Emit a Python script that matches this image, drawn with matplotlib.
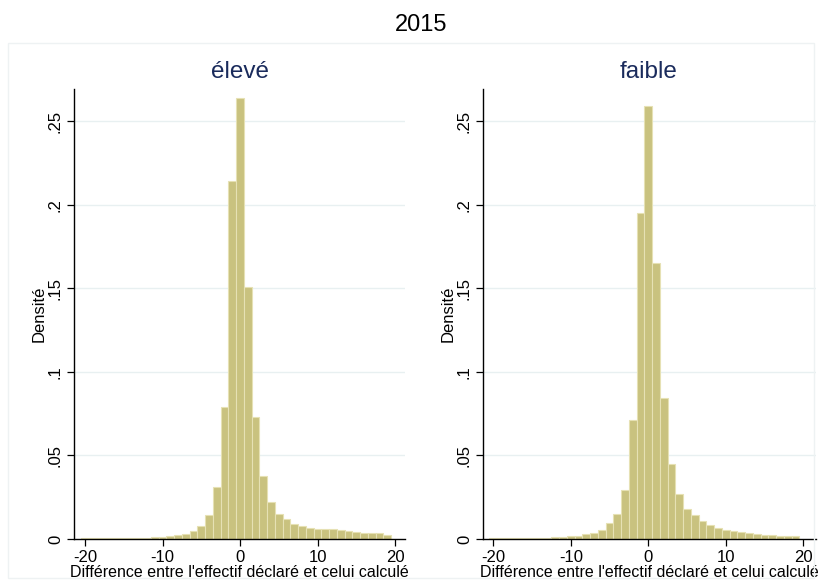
import numpy as np
import matplotlib
matplotlib.use("Agg")
import matplotlib.pyplot as plt
from matplotlib.patches import Rectangle

plt.rcParams['font.family'] = ['Liberation Sans', 'DejaVu Sans']

# bin centres (width 1) of the difference, and density per group
bin_centers = np.arange(-20, 20)

dens_eleve = [0.0003, 0.0003, 0.0004, 0.0004, 0.0004, 0.0005, 0.0005, 0.0006, 0.0007, 0.0009,
              0.0012, 0.0016, 0.0024, 0.0032, 0.0046, 0.0080, 0.0146, 0.0314, 0.0790, 0.2146,
              0.2640, 0.1506, 0.0733, 0.0378, 0.0219, 0.0152, 0.0120, 0.0092, 0.0076, 0.0066,
              0.0062, 0.0060, 0.0058, 0.0052, 0.0046, 0.0040, 0.0038, 0.0036, 0.0034, 0.0026]

dens_faible = [0.0003, 0.0003, 0.0004, 0.0004, 0.0005, 0.0005, 0.0006, 0.0007, 0.0009, 0.0012,
               0.0016, 0.0020, 0.0028, 0.0036, 0.0055, 0.0094, 0.0151, 0.0294, 0.0710, 0.1954,
               0.2590, 0.1654, 0.0846, 0.0447, 0.0272, 0.0178, 0.0146, 0.0108, 0.0082, 0.0068,
               0.0056, 0.0048, 0.0040, 0.0034, 0.0028, 0.0024, 0.0022, 0.0020, 0.0018, 0.0016]

panel_titles = ["élevé", "faible"]
main_title = "2015"
xlabel = "Différence entre l'effectif déclaré et celui calculé"
ylabel = "Densité"
yticks = [0, 0.05, 0.1, 0.15, 0.2, 0.25]
ytick_labels = ["0", ".05", ".1", ".15", ".2", ".25"]
xticks = [-20, -10, 0, 10, 20]

W, H = 819, 581
fig = plt.figure(figsize=(W / 100, H / 100), dpi=100)
fig.patch.set_facecolor('white')

# faint outer frame (stata graph region)
fig.patches.append(Rectangle((8 / W, 3 / H), 806 / W, 535 / H, transform=fig.transFigure,
                             fill=False, edgecolor='#eef2f3', linewidth=1))

def px(x0, y0, x1, y1):
    return [x0 / W, 1 - y1 / H, (x1 - x0) / W, (y1 - y0) / H]

panels = [(px(74, 89, 405, 539), (-21.42, 21.29), dens_eleve, 240),
          (px(483, 89, 816, 539), (-21.33, 21.64), dens_faible, 648.7)]

bar_col = '#c9c27f'
edge_col = '#e6e1b4'
title_col = '#1a2b5c'

for (rect, xl, dens, tx), ttl in zip(panels, panel_titles):
    ax = fig.add_axes(rect)
    ax.bar(bin_centers, dens, width=1.0, color=bar_col, edgecolor=edge_col, linewidth=0.8, zorder=2)
    ax.set_xlim(xl)
    ax.set_ylim(0, 0.2694)
    for y in yticks[1:]:
        ax.axhline(y, color='#e8f0f1', linewidth=1, zorder=1)
    ax.set_yticks(yticks)
    ax.set_yticklabels(ytick_labels, rotation=90, va='center')
    ax.set_xticks(xticks)
    ax.set_xticklabels([str(v) for v in xticks])
    ax.tick_params(axis='both', labelsize=12, length=5, width=0.9, color='black', pad=3)
    ax.spines['top'].set_visible(False)
    ax.spines['right'].set_visible(False)
    ax.spines['left'].set_linewidth(1)
    ax.spines['bottom'].set_linewidth(1)
    ax.set_xlabel(xlabel, fontsize=11.5, labelpad=0)
    ax.set_ylabel(ylabel, fontsize=12, labelpad=1)
    fig.text(tx / W, 1 - 72 / H, ttl, fontsize=17.5, color=title_col, ha='center', va='center')

fig.text(421 / W, 1 - 25 / H, main_title, fontsize=17, color='black', ha='center', va='center')

plt.savefig("out.png", dpi=100)
